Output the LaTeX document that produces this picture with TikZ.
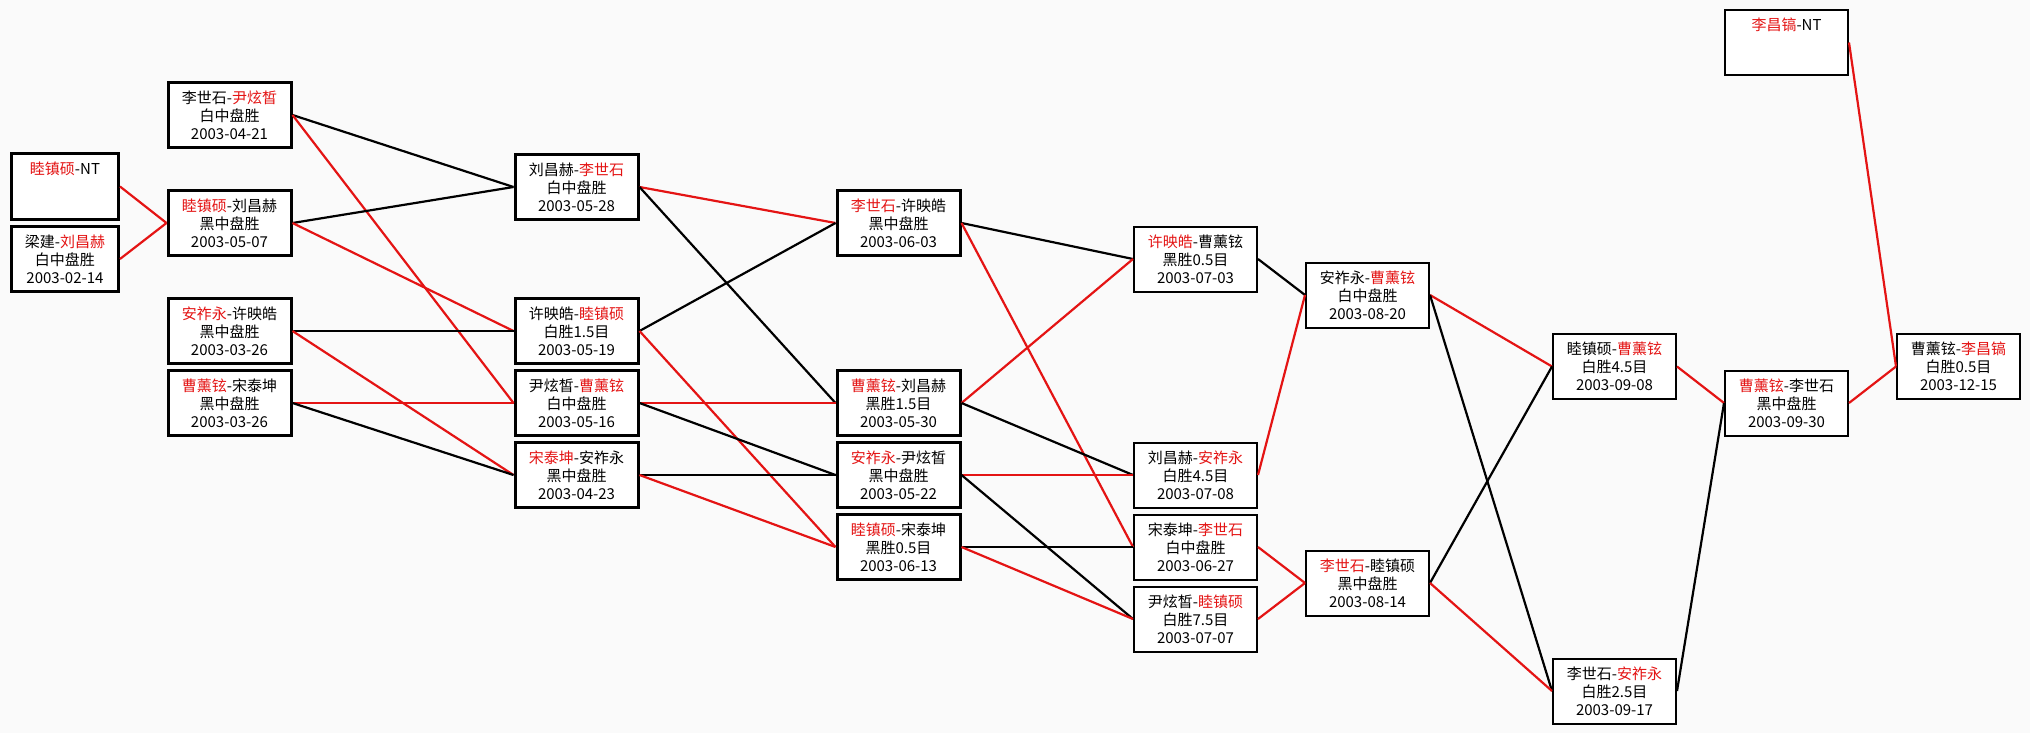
\documentclass[tikz,border=0pt]{standalone}
\usepackage{fontspec}
\newfontfamily\cjk{Noto Sans CJK SC}
\definecolor{venc}{RGB}{228,20,20}
\newcommand\verm[1]{\textcolor{venc}{#1}}

\begin{document}
\begin{tikzpicture}[x=0.5pt, y=-0.5pt,
    font=\cjk\fontsize{7.5}{9}\selectfont,
    jogo/.style={draw, line width=1.5pt, align=center, inner sep=0pt, minimum width=61.5pt, minimum height=32.5pt, fill=white},
    fino/.style={jogo, line width=1pt},
    ganhou/.style={venc, line width=1.1pt},
    perdeu/.style={black, line width=1.1pt}]
    \fill[black!2] (0,0) rectangle (2030,733);

    % rodada 0
    \node[jogo, minimum width=53.5pt] (a1) at (65,186.5) {\verm{睦镇硕}-NT\\\mbox{}\\\mbox{}};
    \node[jogo, minimum width=53.5pt] (a2) at (65,259) {梁建-\verm{刘昌赫}\\白中盘胜\\2003-02-14};

    % rodada 1
    \node[jogo] (b1) at (229.5,115) {李世石-\verm{尹炫皙}\\白中盘胜\\2003-04-21};
    \node[jogo] (b2) at (229.5,223) {\verm{睦镇硕}-刘昌赫\\黑中盘胜\\2003-05-07};
    \node[jogo] (b3) at (229.5,331) {\verm{安祚永}-许映皓\\黑中盘胜\\2003-03-26};
    \node[jogo] (b4) at (229.5,403) {\verm{曹薰铉}-宋泰坤\\黑中盘胜\\2003-03-26};

    % rodada 2
    \node[jogo] (c1) at (576.5,187) {刘昌赫-\verm{李世石}\\白中盘胜\\2003-05-28};
    \node[jogo] (c2) at (576.5,331) {许映皓-\verm{睦镇硕}\\白胜1.5目\\2003-05-19};
    \node[jogo] (c3) at (576.5,403) {尹炫皙-\verm{曹薰铉}\\白中盘胜\\2003-05-16};
    \node[jogo] (c4) at (576.5,475) {\verm{宋泰坤}-安祚永\\黑中盘胜\\2003-04-23};

    % rodada 3
    \node[jogo] (d1) at (898.5,223) {\verm{李世石}-许映皓\\黑中盘胜\\2003-06-03};
    \node[jogo] (d2) at (898.5,403) {\verm{曹薰铉}-刘昌赫\\黑胜1.5目\\2003-05-30};
    \node[jogo] (d3) at (898.5,475) {\verm{安祚永}-尹炫皙\\黑中盘胜\\2003-05-22};
    \node[jogo] (d4) at (898.5,547) {\verm{睦镇硕}-宋泰坤\\黑胜0.5目\\2003-06-13};

    % rodada 4
    \node[fino] (e1) at (1195.5,259) {\verm{许映皓}-曹薰铉\\黑胜0.5目\\2003-07-03};
    \node[fino] (e2) at (1195.5,475) {刘昌赫-\verm{安祚永}\\白胜4.5目\\2003-07-08};
    \node[fino] (e3) at (1195.5,547) {宋泰坤-\verm{李世石}\\白中盘胜\\2003-06-27};
    \node[fino] (e4) at (1195.5,619) {尹炫皙-\verm{睦镇硕}\\白胜7.5目\\2003-07-07};

    % rodada 5
    \node[fino] (f1) at (1367.5,295) {安祚永-\verm{曹薰铉}\\白中盘胜\\2003-08-20};
    \node[fino] (f2) at (1367.5,583) {\verm{李世石}-睦镇硕\\黑中盘胜\\2003-08-14};

    % rodada 6
    \node[fino] (g1) at (1614.5,366.5) {睦镇硕-\verm{曹薰铉}\\白胜4.5目\\2003-09-08};
    \node[fino] (g2) at (1614.5,691) {李世石-\verm{安祚永}\\白胜2.5目\\2003-09-17};

    % final
    \node[fino] (h1) at (1786.5,403) {\verm{曹薰铉}-李世石\\黑中盘胜\\2003-09-30};
    \node[fino] (n2) at (1786.5,42.5) {\verm{李昌镐}-NT\\\mbox{}\\\mbox{}};
    \node[fino] (i1) at (1958.5,366.5) {曹薰铉-\verm{李昌镐}\\白胜0.5目\\2003-12-15};

    % ligacoes 0 - 1
    \draw[ganhou] (a1.east) -- (b2.west);
    \draw[ganhou] (a2.east) -- (b2.west);

    % ligacoes 1 - 2
    \draw[perdeu] (b1.east) -- (c1.west);
    \draw[ganhou] (b1.east) -- (c3.west);
    \draw[perdeu] (b2.east) -- (c1.west);
    \draw[ganhou] (b2.east) -- (c2.west);
    \draw[perdeu] (b3.east) -- (c2.west);
    \draw[ganhou] (b3.east) -- (c4.west);
    \draw[ganhou] (b4.east) -- (c3.west);
    \draw[perdeu] (b4.east) -- (c4.west);

    % ligacoes 2 - 3
    \draw[ganhou] (c1.east) -- (d1.west);
    \draw[perdeu] (c1.east) -- (d2.west);
    \draw[perdeu] (c2.east) -- (d1.west);
    \draw[ganhou] (c2.east) -- (d4.west);
    \draw[ganhou] (c3.east) -- (d2.west);
    \draw[perdeu] (c3.east) -- (d3.west);
    \draw[perdeu] (c4.east) -- (d3.west);
    \draw[ganhou] (c4.east) -- (d4.west);

    % ligacoes 3 - 4
    \draw[perdeu] (d1.east) -- (e1.west);
    \draw[ganhou] (d1.east) -- (e3.west);
    \draw[ganhou] (d2.east) -- (e1.west);
    \draw[perdeu] (d2.east) -- (e2.west);
    \draw[ganhou] (d3.east) -- (e2.west);
    \draw[perdeu] (d3.east) -- (e4.west);
    \draw[perdeu] (d4.east) -- (e3.west);
    \draw[ganhou] (d4.east) -- (e4.west);

    % ligacoes 4 - 5
    \draw[perdeu] (e1.east) -- (f1.west);
    \draw[ganhou] (e2.east) -- (f1.west);
    \draw[ganhou] (e3.east) -- (f2.west);
    \draw[ganhou] (e4.east) -- (f2.west);

    % ligacoes 5 - 6
    \draw[ganhou] (f1.east) -- (g1.west);
    \draw[perdeu] (f1.east) -- (g2.west);
    \draw[perdeu] (f2.east) -- (g1.west);
    \draw[ganhou] (f2.east) -- (g2.west);

    % ligacoes final
    \draw[ganhou] (g1.east) -- (h1.west);
    \draw[perdeu] (g2.east) -- (h1.west);
    \draw[ganhou] (h1.east) -- (i1.west);
    \draw[ganhou] (n2.east) -- (i1.west);
\end{tikzpicture}
\end{document}
